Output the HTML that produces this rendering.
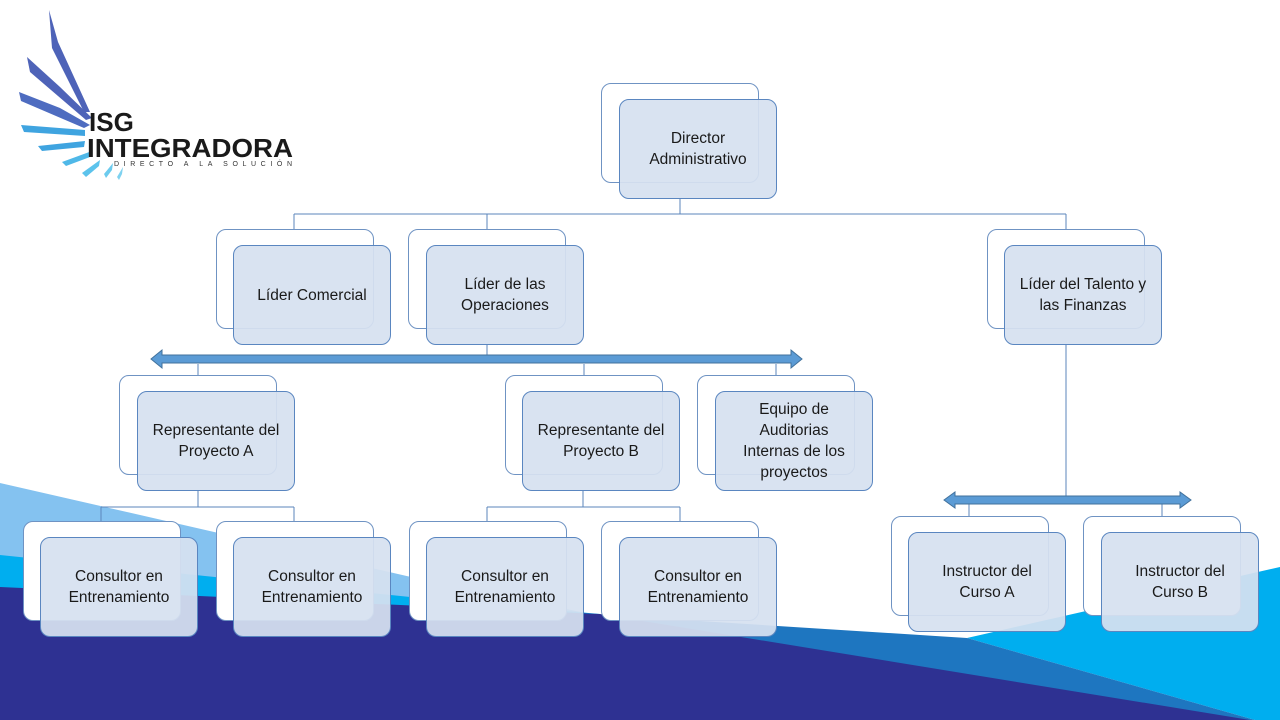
<!DOCTYPE html>
<html><head><meta charset="utf-8"><style>
html,body{margin:0;padding:0;background:#fff}
body{width:1280px;height:720px;position:relative;overflow:hidden;font-family:"Liberation Sans",sans-serif}
svg{position:absolute;left:0;top:0}
.b{position:absolute;border:1px solid #6f93c3;border-radius:10px;background:#fff}
.f{position:absolute;border:1px solid #5a86c0;border-radius:10px;background:rgba(214,225,240,0.93);display:flex;align-items:center;justify-content:center;text-align:center;font-size:15.5px;line-height:21px;color:#1a1a1a;padding:0 6px}
.f,.b{box-sizing:border-box;width:158px;height:100px}
</style></head><body>
<svg width="1280" height="720">
<polygon points="0,483 411,577 620,620 0,620" fill="#84c2f0"/>
<polygon points="0,555 420,598 600,614 0,614" fill="#00aeef"/>
<polygon points="967,638 1280,567 1280,720 1255,720" fill="#00aeef"/>
<polygon points="590,614 967,638 1255,720 590,720" fill="#1e76c0"/>
<polygon points="0,587 600,614 1250,720 0,720" fill="#2e3192"/>
<g>
<polygon points="49,10 58,42 90,112 84,112 52,48" fill="#4e63b8"/>
<polygon points="27,57 60,87 92,118 86,120 30,72" fill="#4e63b8"/>
<polygon points="19,92 60,108 90,125 84,128 21,101" fill="#4e6cc0"/>
<polygon points="21,125 85,130 85,136 24,132" fill="#3fa4e0"/>
<polygon points="38,146 85,141 84,147 42,151" fill="#3fa4e0"/>
<polygon points="62,162 92,151 90,157 66,166" fill="#4fb8e8"/>
<polygon points="82,173 100,160 99,166 86,177" fill="#5cc3ec"/>
<polygon points="104,174 113,163 112,170 106,178" fill="#6ccbee"/>
<polygon points="117,177 123,167 122,174 119,180" fill="#7fd2f0"/>
</g>
<text x="89" y="131" font-family="Liberation Sans" font-weight="bold" font-size="26" fill="#1a1a1a">ISG</text>
<text x="87" y="157" font-family="Liberation Sans" font-weight="bold" font-size="26" fill="#1a1a1a" textLength="206" lengthAdjust="spacingAndGlyphs">INTEGRADORA</text>
<text x="114" y="166" font-family="Liberation Sans" font-size="7" fill="#333" textLength="178" lengthAdjust="spacing">DIRECTO A LA SOLUCIÓN</text>
<g stroke="#5b86bb" stroke-width="1" fill="none">
<path d="M680,199V214M294,214H1066M294,214V229M487,214V229M1066,214V229"/>
<path d="M487,345V355M198,364V375M584,364V375M776,364V375"/>
<path d="M198,491V507M101,507H294M101,507V521M294,507V521"/>
<path d="M583,491V507M487,507H680M487,507V521M680,507V521"/>
<path d="M1066,345V496M969,504V516M1162,504V516"/>
</g>
<polygon points="151,359 162,350 162,355 791,355 791,350 802,359 791,368 791,363 162,363 162,368" fill="#5b9bd5" stroke="#41719c" stroke-width="1"/>
<polygon points="944,500 955,492 955,496 1180,496 1180,492 1191,500 1180,508 1180,504 955,504 955,508" fill="#5b9bd5" stroke="#41719c" stroke-width="1"/>
</svg>
<div class="b" style="left:601px;top:83px"></div><div class="f" style="left:619px;top:99px">Director<br>Administrativo</div>
<div class="b" style="left:216px;top:229px"></div><div class="f" style="left:233px;top:245px">Líder Comercial</div>
<div class="b" style="left:408px;top:229px"></div><div class="f" style="left:426px;top:245px">Líder de las<br>Operaciones</div>
<div class="b" style="left:987px;top:229px"></div><div class="f" style="left:1004px;top:245px">Líder del Talento y<br>las Finanzas</div>
<div class="b" style="left:119px;top:375px"></div><div class="f" style="left:137px;top:391px">Representante del<br>Proyecto A</div>
<div class="b" style="left:505px;top:375px"></div><div class="f" style="left:522px;top:391px">Representante del<br>Proyecto B</div>
<div class="b" style="left:697px;top:375px"></div><div class="f" style="left:715px;top:391px">Equipo de<br>Auditorias<br>Internas de los<br>proyectos</div>
<div class="b" style="left:23px;top:521px"></div><div class="f" style="left:40px;top:537px">Consultor en<br>Entrenamiento</div>
<div class="b" style="left:216px;top:521px"></div><div class="f" style="left:233px;top:537px">Consultor en<br>Entrenamiento</div>
<div class="b" style="left:409px;top:521px"></div><div class="f" style="left:426px;top:537px">Consultor en<br>Entrenamiento</div>
<div class="b" style="left:601px;top:521px"></div><div class="f" style="left:619px;top:537px">Consultor en<br>Entrenamiento</div>
<div class="b" style="left:891px;top:516px"></div><div class="f" style="left:908px;top:532px">Instructor del<br>Curso A</div>
<div class="b" style="left:1083px;top:516px"></div><div class="f" style="left:1101px;top:532px">Instructor del<br>Curso B</div>
</body></html>
